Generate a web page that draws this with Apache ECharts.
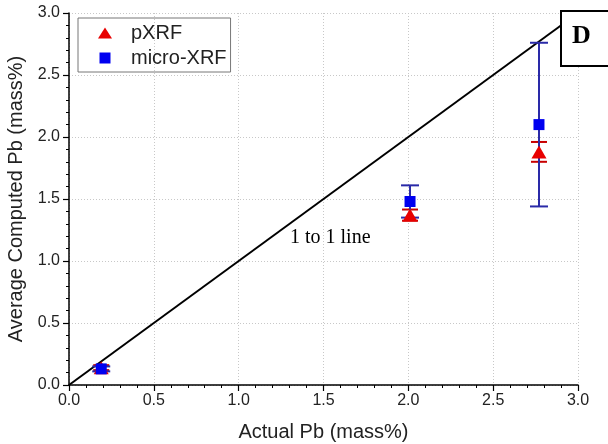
<!DOCTYPE html>
<html><head><meta charset="utf-8">
<script src="https://cdn.jsdelivr.net/npm/echarts@6/dist/echarts.min.js"></script>
<style>html,body{margin:0;padding:0;background:#fff}#c{width:608px;height:444px}</style>
</head><body><div id="c"></div>
<script>
const actualPb = [0.19, 2.01, 2.77];
const pxrfMean = [0.14, 1.37, 1.88];
const pxrfErr = [0.02, 0.045, 0.08];
const microMean = [0.13, 1.48, 2.10];
const microErr = [0.02, 0.13, 0.66];
const oneToOne = [[0, 0], [3, 3]];

const chart = echarts.init(document.getElementById('c'));
function errData(mean, err) {
  return actualPb.map((x, i) => [x, mean[i] - err[i], mean[i] + err[i]]);
}
function errSeries(name, mean, err, color, capW) {
  return {
    type: 'custom', name: name + ' err', silent: true, z: 3,
    data: errData(mean, err),
    renderItem: function (params, api) {
      const lo = api.coord([api.value(0), api.value(1)]);
      const hi = api.coord([api.value(0), api.value(2)]);
      const st = { stroke: color, lineWidth: 2 };
      return { type: 'group', children: [
        { type: 'line', shape: { x1: lo[0], y1: lo[1], x2: hi[0], y2: hi[1] }, style: st },
        { type: 'line', shape: { x1: lo[0] - capW, y1: lo[1], x2: lo[0] + capW, y2: lo[1] }, style: st },
        { type: 'line', shape: { x1: hi[0] - capW, y1: hi[1], x2: hi[0] + capW, y2: hi[1] }, style: st }
      ]};
    }
  };
}
const FONT = '"Liberation Sans", Arial, sans-serif';
const axisCommon = {
  type: 'value', min: 0, max: 3, interval: 0.5,
  axisLine: { show: true, lineStyle: { color: '#000', width: 1.5 } },
  axisTick: { show: true, inside: false, length: 6, lineStyle: { color: '#000', width: 1.2 } },
  minorTick: { show: true, splitNumber: 5, length: 3, lineStyle: { color: '#000', width: 1 } },
  splitLine: { show: true, lineStyle: { color: '#c8c8c8', type: [1, 2], width: 1 } },
  axisLabel: { color: '#222', fontSize: 16, fontFamily: FONT, formatter: v => v.toFixed(1) },
  nameLocation: 'middle',
  nameTextStyle: { color: '#222', fontSize: 20, fontFamily: FONT }
};
chart.setOption({
  animation: false,
  grid: { left: 69, right: 30, top: 13, bottom: 59, containLabel: false, outerBoundsMode: 'none' },
  xAxis: Object.assign({}, axisCommon, { name: 'Actual Pb (mass%)', nameGap: 37 }),
  yAxis: Object.assign({}, axisCommon, { name: 'Average Computed Pb (mass%)', nameGap: 39,
    axisLabel: Object.assign({}, axisCommon.axisLabel, { margin: 9 }) }),
  legend: {
    left: 78, top: 18, orient: 'vertical', itemGap: 5,
    borderColor: '#777', borderWidth: 1, padding: [5, 4, 4, 20],
    itemWidth: 14, itemHeight: 11,
    textStyle: { color: '#222', fontSize: 20, fontFamily: FONT, padding: [0, 0, 0, 14] },
    data: [{ name: 'pXRF', icon: 'triangle' }, { name: 'micro-XRF', icon: 'path://M0,0H10V10H0Z' }]
  },
  series: [
    { type: 'line', name: '1 to 1', data: oneToOne, symbol: 'none', lineStyle: { color: '#000', width: 2 }, z: 2, silent: true },
    errSeries('pXRF', pxrfMean, pxrfErr, '#c80000', 8),
    errSeries('micro-XRF', microMean, microErr, '#2a2aa8', 9),
    { type: 'scatter', name: 'pXRF', symbol: 'triangle', symbolSize: [15, 13], z: 5,
      itemStyle: { color: '#e80000', opacity: 1 }, data: actualPb.map((x, i) => [x, pxrfMean[i]]) },
    { type: 'scatter', name: 'micro-XRF', symbol: 'rect', symbolSize: [11, 11], z: 6,
      itemStyle: { color: '#0000f0', opacity: 1 }, data: actualPb.map((x, i) => [x, microMean[i]]) }
  ],
  graphic: [
    { type: 'rect', left: 560, top: 10, z: 10, shape: { width: 60, height: 55 },
      style: { fill: '#fff', stroke: '#000', lineWidth: 2 } },
    { type: 'text', left: 572, top: 23, z: 11,
      style: { text: 'D', fill: '#000', font: 'bold 26px "Liberation Serif", "DejaVu Serif", serif' } },
    { type: 'text', left: 290, top: 228, z: 11,
      style: { text: '1 to 1 line', fill: '#000', font: '20px "Liberation Serif", "DejaVu Serif", serif' } }
  ]
});
</script></body></html>
